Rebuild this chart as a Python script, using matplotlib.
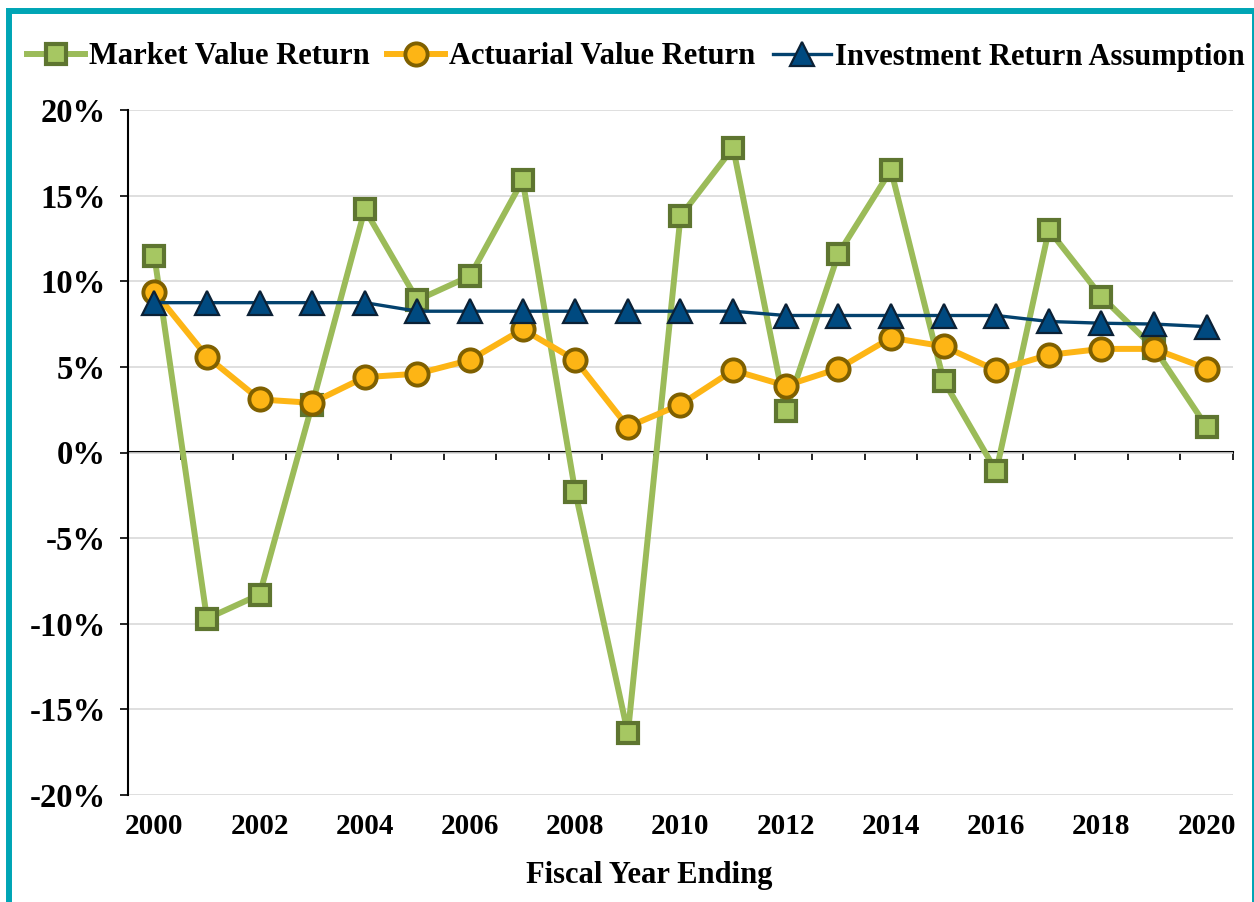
import numpy as np
import matplotlib
matplotlib.use("Agg")
import matplotlib.pyplot as plt
from matplotlib.patches import Rectangle
from matplotlib.ticker import FuncFormatter

years = np.arange(2000, 2021)
market = [11.5, -9.7, -8.3, 2.8, 14.2, 8.9, 10.3, 15.9, -2.3, -16.4, 13.8,
          17.8, 2.4, 11.6, 16.5, 4.2, -1.1, 13.0, 9.1, 6.1, 1.5]
actuarial = [9.4, 5.6, 3.1, 2.9, 4.4, 4.6, 5.4, 7.2, 5.4, 1.5, 2.8,
             4.8, 3.9, 4.9, 6.7, 6.2, 4.8, 5.7, 6.05, 6.05, 4.9]
assumption = [8.75, 8.75, 8.75, 8.75, 8.75, 8.25, 8.25, 8.25, 8.25, 8.25, 8.25,
              8.25, 8.0, 8.0, 8.0, 8.0, 8.0, 7.65, 7.55, 7.5, 7.35]

plt.rcParams['font.family'] = ['Liberation Serif', 'DejaVu Serif']
plt.rcParams['font.weight'] = 'bold'

fig = plt.figure(figsize=(12.54, 9.02), dpi=100)
ax = fig.add_axes([128/1254, 1-795/902, (1233-128)/1254, (795-110)/902])

ax.plot(years, market, color='#9BBB59', lw=4.3, marker='s', ms=15,
        mfc='#A6C762', mec='#5E7530', mew=3.0, label='Market Value Return')
ax.plot(years, actuarial, color='#FDB515', lw=4.3, marker='o', ms=16,
        mfc='#FDB515', mec='#7F6000', mew=2.8, label='Actuarial Value Return')
ax.plot(years, assumption, color='#03426E', lw=2.4, marker='^', ms=17,
        mfc='#004A80', mec='#0B2136', mew=1.6, label='Investment Return Assumption')

ax.set_xlim(1999.5, 2020.5)
ax.set_ylim(-20, 20)
ax.set_yticks(np.arange(-20, 21, 5))
ax.yaxis.set_major_formatter(FuncFormatter(lambda v, p: f"{v:.0f}%"))
ax.grid(axis='y', color='#D9D9D9', lw=1.2)
ax.set_axisbelow(True)

for s in ['top', 'right', 'bottom']:
    ax.spines[s].set_visible(False)
ax.spines['left'].set_linewidth(1.5)
ax.tick_params(axis='y', length=6, width=1.2, labelsize=23.5, pad=10)

ax.set_xticks(years[::2])
ax.tick_params(axis='x', length=0, labelsize=21, pad=13)
ax.set_xlabel('Fiscal Year Ending', fontsize=22, fontweight='bold', labelpad=14)
ax.xaxis.set_label_coords(0.472, -0.097)

# x axis line at 0% with category ticks between years
zero = ax.secondary_xaxis(0.5)
zero.spines['top'].set_linewidth(1.5)
zero.set_xticks(np.arange(1999.5, 2021, 1))
zero.tick_params(axis='x', direction='in', length=6, width=1.2,
                 labeltop=False, labelbottom=False)

fig.legend(loc='center', bbox_to_anchor=(0.507, 1-57/902), ncol=3, frameon=False,
           fontsize=22, handlelength=1.9, handletextpad=0.15, columnspacing=0.55,
           borderaxespad=0)

fig.patches.append(Rectangle((8.5/1254, -0.05), (1254.5-8.5)/1254, 1.05-11/902,
                             transform=fig.transFigure, fill=False,
                             ec='#00A5B5', lw=4.3))

fig.savefig('out.png', dpi=100)
